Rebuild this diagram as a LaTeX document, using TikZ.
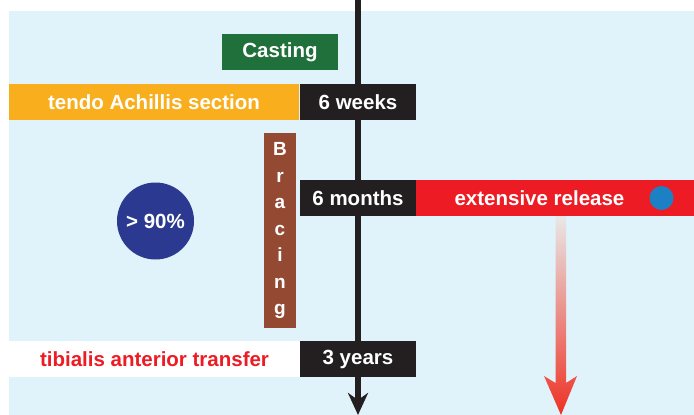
\documentclass[tikz,border=0pt]{standalone}
\usepackage{fontspec}
\setmainfont{Liberation Sans}
\usetikzlibrary{arrows.meta}
\definecolor{bgblue}{HTML}{E0F3FB}
\definecolor{cgreen}{HTML}{1F703B}
\definecolor{corange}{HTML}{F9AE1D}
\definecolor{cblack}{HTML}{231F20}
\definecolor{cbrown}{HTML}{944A32}
\definecolor{cred}{HTML}{ED1C24}
\definecolor{cdot}{HTML}{1B80C4}
\definecolor{cnavy}{HTML}{2B3990}
\definecolor{cgrey}{HTML}{E8E8E8}
\definecolor{csalmon}{HTML}{EC8C74}
\definecolor{cred2}{HTML}{EE3124}
\tikzset{
  bar/.style={inner sep=0pt, outer sep=0pt, text=white,
    font=\fontsize{20.5}{24}\selectfont\bfseries, minimum height=36pt},
  timebox/.style={bar, fill=cblack, minimum width=116pt},
}
\begin{document}
\begin{tikzpicture}[x=1pt,y=-1pt]
\useasboundingbox (0,0) rectangle (694,415);
\fill[bgblue] (9,11) rectangle (694,415);
% timeline
\coordinate (ltop) at (358,0);
\coordinate (lbot) at (358,415);
\draw[cblack, line width=6pt, -{Stealth[length=22pt,width=20pt,inset=7pt]}] (ltop) -- (lbot);
% boxes
\node[bar, fill=cgreen, minimum width=116pt] (cast) at (280,52) {Casting};
\node[bar, fill=corange, minimum width=290pt] (tendo) at (154,102) {tendo Achillis section};
\node[timebox] (w6) at (358,102) {6 weeks};
\node[bar, fill=cbrown, minimum width=32pt, minimum height=195pt, align=center,
  font=\fontsize{19}{26.5}\selectfont\bfseries] (brace) at (280,230.5) {B\\r\\a\\c\\i\\n\\g};
\node[timebox] (m6) at (358,198) {6 months};
\node[bar, fill=cred, minimum width=278pt] (rel) at (555,198) {};
\node[bar, anchor=center] (reltext) at (539.5,198) {extensive release};
\node[circle, fill=cdot, minimum size=24pt, inner sep=0pt] (dot) at (661.5,198) {};
\node[circle, fill=cnavy, minimum size=77pt, inner sep=0pt, text=white,
  font=\fontsize{20.5}{24}\selectfont\bfseries] (pct) at (155.5,221) {> 90\%};
\node[bar, fill=white, text=cred, minimum width=291pt] (tib) at (154.5,359) {tibialis anterior transfer};
\node[timebox] (y3) at (358,359) {3 years};
% gradient arrow
\coordinate (rs) at (561,216);
\coordinate (re) at (561,415);
\shade[top color=cgrey, middle color=csalmon, bottom color=cred2]
  ([xshift=-5.5pt]rs) -- ([xshift=-5.5pt,yshift=32pt]re) -- ([xshift=-17pt,yshift=39pt]re)
  -- (re) -- ([xshift=16pt,yshift=39pt]re) -- ([xshift=5pt,yshift=32pt]re)
  -- ([xshift=5pt]rs) -- cycle;
\end{tikzpicture}
\end{document}
